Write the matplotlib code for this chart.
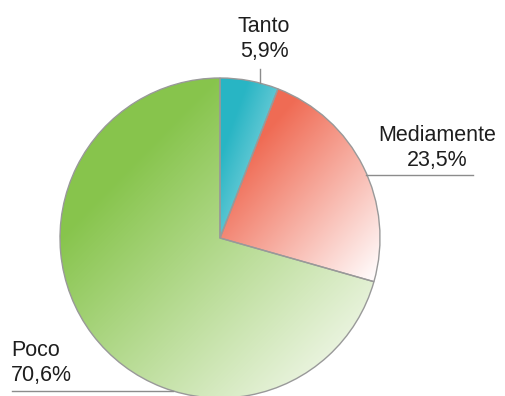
import numpy as np
import matplotlib
matplotlib.use('Agg')
from matplotlib import pyplot as plt

labels = ['Tanto', 'Mediamente', 'Poco']
values = [5.9, 23.5, 70.6]
value_text = ['5,9%', '23,5%', '70,6%']

# start / end colours of the gradient fill in each slice
start_cols = [(0.16, 0.71, 0.77), (0.94, 0.42, 0.33), (0.53, 0.77, 0.30)]
end_cols = [(0.66, 0.88, 0.91), (1.0, 0.98, 0.98), (0.97, 0.98, 0.95)]

W, H = 505, 396
cx, cy, r = 220, H - 238, 160

plt.rcParams['font.family'] = ['Liberation Sans', 'DejaVu Sans']

fig = plt.figure(figsize=(W / 100, H / 100), dpi=100)
ax = fig.add_axes([0, 0, 1, 1])

wedges, _ = ax.pie(values, center=(cx, cy), radius=r, startangle=90,
                   counterclock=False, frame=True,
                   wedgeprops=dict(facecolor='none', edgecolor='#999999', linewidth=1.0))

# fill each wedge with a diagonal gradient clipped to its outline
for w, c0, c1 in zip(wedges, start_cols, end_cols):
    v = w.get_path().vertices
    x0, y0 = v.min(axis=0)
    x1, y1 = v.max(axis=0)
    xs = np.linspace(0, 1, 200)
    ys = np.linspace(0, 1, 200)
    gx, gy = np.meshgrid(xs, ys)
    t = (gx + (1 - gy)) / 2.0
    t = np.clip((t - 0.25) / 0.7, 0, 1)
    img = np.zeros((200, 200, 3))
    for k in range(3):
        img[..., k] = c0[k] * (1 - t) + c1[k] * t
    im = ax.imshow(img, extent=(x0, x1, y0, y1), origin='lower', zorder=0,
                   interpolation='bilinear', aspect='auto')
    im.set_clip_path(w)

ax.set_xlim(0, W)
ax.set_ylim(0, H)
ax.set_aspect('auto')
ax.axis('off')

txt = dict(fontsize=15.5, color='#1e1e1e', linespacing=1.22)
line = dict(color='#8c8c8c', linewidth=1.0)

# Tanto: label above with a short vertical leader
ax.text(264, H - 62, labels[0] + '\n' + value_text[0], ha='center', va='bottom', **txt)
ax.plot([260, 260], [H - 69, H - 83], **line)

# Mediamente: label to the right over a horizontal leader
ax.text(437, H - 171, labels[1] + '\n' + value_text[1], ha='center', va='bottom', **txt)
ax.plot([366, 473], [H - 175, H - 175], **line)

# Poco: label bottom-left over a horizontal leader
ax.text(11, H - 386, labels[2] + '\n' + value_text[2], ha='left', va='bottom', **txt)
ax.plot([12, 173], [H - 391, H - 391], **line)

fig.savefig('out.png', dpi=100)
